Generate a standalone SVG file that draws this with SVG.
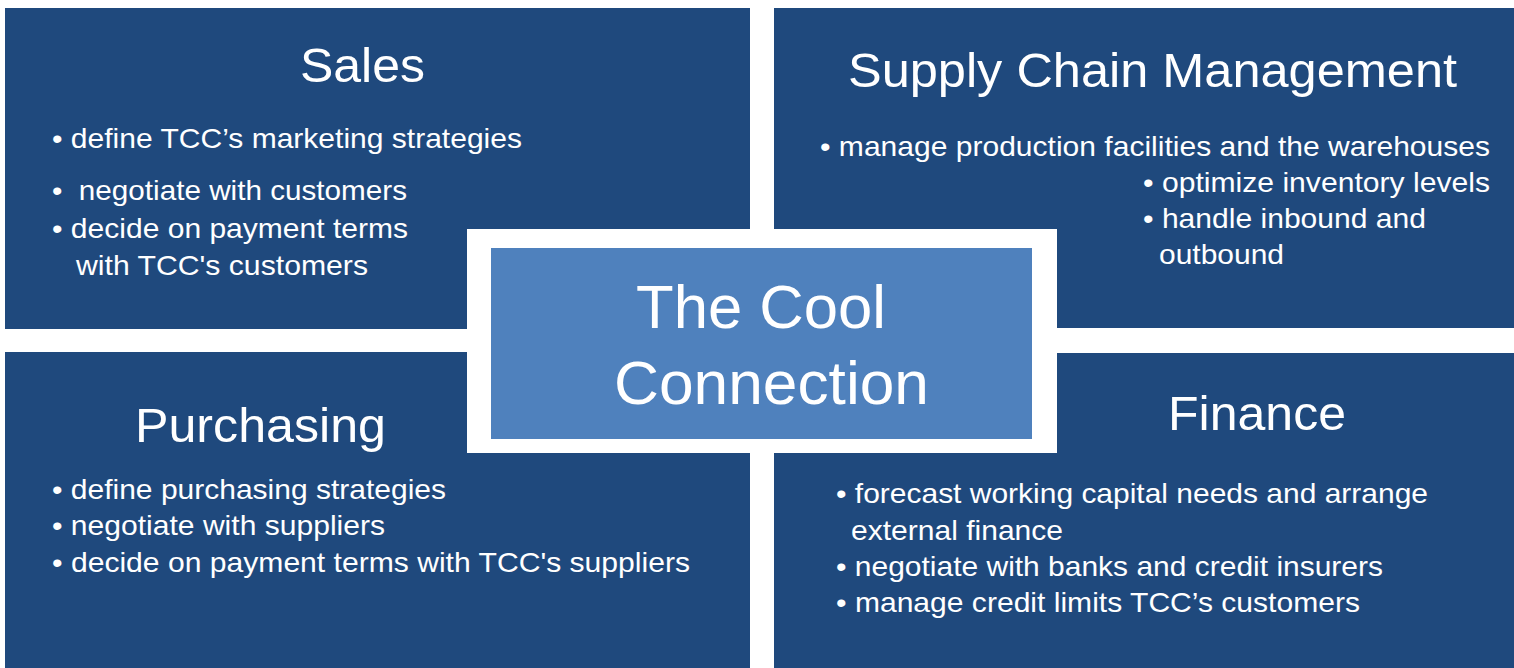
<svg xmlns="http://www.w3.org/2000/svg" width="1514" height="668" viewBox="0 0 1514 668">
<style>
.panel{fill:#1F497D}
.t{fill:#FFFFFF;font-family:"Liberation Sans",Arial,sans-serif}
.h{font-size:48px}
.b{font-size:28px}
.c{font-size:62px}
</style>
<rect x="0" y="0" width="1514" height="668" fill="#FFFFFF"/>
<g id="sales">
<rect class="panel" x="5" y="8" width="745" height="321"/>
<text class="t h" x="300" y="82" textLength="125" lengthAdjust="spacingAndGlyphs">Sales</text>
<text class="t b" x="52" y="148" textLength="470" lengthAdjust="spacingAndGlyphs">• define TCC’s marketing strategies</text>
<text class="t b" x="52" y="200" textLength="355" lengthAdjust="spacingAndGlyphs" xml:space="preserve">•  negotiate with customers</text>
<text class="t b" x="52" y="238" textLength="356" lengthAdjust="spacingAndGlyphs">• decide on payment terms</text>
<text class="t b" x="76" y="275" textLength="292" lengthAdjust="spacingAndGlyphs">with TCC's customers</text>
</g>
<g id="supply-chain">
<rect class="panel" x="774" y="8" width="740" height="320"/>
<text class="t h" x="848" y="87" textLength="609" lengthAdjust="spacingAndGlyphs">Supply Chain Management</text>
<text class="t b" x="820" y="156" textLength="670" lengthAdjust="spacingAndGlyphs">• manage production facilities and the warehouses</text>
<text class="t b" x="1143" y="192" textLength="347" lengthAdjust="spacingAndGlyphs">• optimize inventory levels</text>
<text class="t b" x="1143" y="228" textLength="283" lengthAdjust="spacingAndGlyphs">• handle inbound and</text>
<text class="t b" x="1159" y="264" textLength="125" lengthAdjust="spacingAndGlyphs">outbound</text>
</g>
<g id="purchasing">
<rect class="panel" x="5" y="352" width="745" height="316"/>
<text class="t h" x="135" y="442" textLength="251" lengthAdjust="spacingAndGlyphs">Purchasing</text>
<text class="t b" x="52" y="499" textLength="394" lengthAdjust="spacingAndGlyphs">• define purchasing strategies</text>
<text class="t b" x="52" y="535" textLength="333" lengthAdjust="spacingAndGlyphs">• negotiate with suppliers</text>
<text class="t b" x="52" y="572" textLength="638" lengthAdjust="spacingAndGlyphs">• decide on payment terms with TCC's suppliers</text>
</g>
<g id="finance">
<rect class="panel" x="774" y="353" width="740" height="315"/>
<text class="t h" x="1168" y="430" textLength="178" lengthAdjust="spacingAndGlyphs">Finance</text>
<text class="t b" x="836" y="503" textLength="592" lengthAdjust="spacingAndGlyphs">• forecast working capital needs and arrange</text>
<text class="t b" x="851" y="540" textLength="212" lengthAdjust="spacingAndGlyphs">external finance</text>
<text class="t b" x="836" y="576" textLength="547" lengthAdjust="spacingAndGlyphs">• negotiate with banks and credit insurers</text>
<text class="t b" x="836" y="612" textLength="524" lengthAdjust="spacingAndGlyphs">• manage credit limits TCC’s customers</text>
</g>
<g id="center">
<rect x="467" y="229" width="590" height="224" fill="#FFFFFF"/>
<rect x="491" y="248" width="541" height="191" fill="#4F81BD"/>
<text class="t c" x="636" y="328" textLength="250" lengthAdjust="spacingAndGlyphs">The Cool</text>
<text class="t c" x="614" y="404" textLength="315" lengthAdjust="spacingAndGlyphs">Connection</text>
</g>
<g id="connectors"/>
</svg>
